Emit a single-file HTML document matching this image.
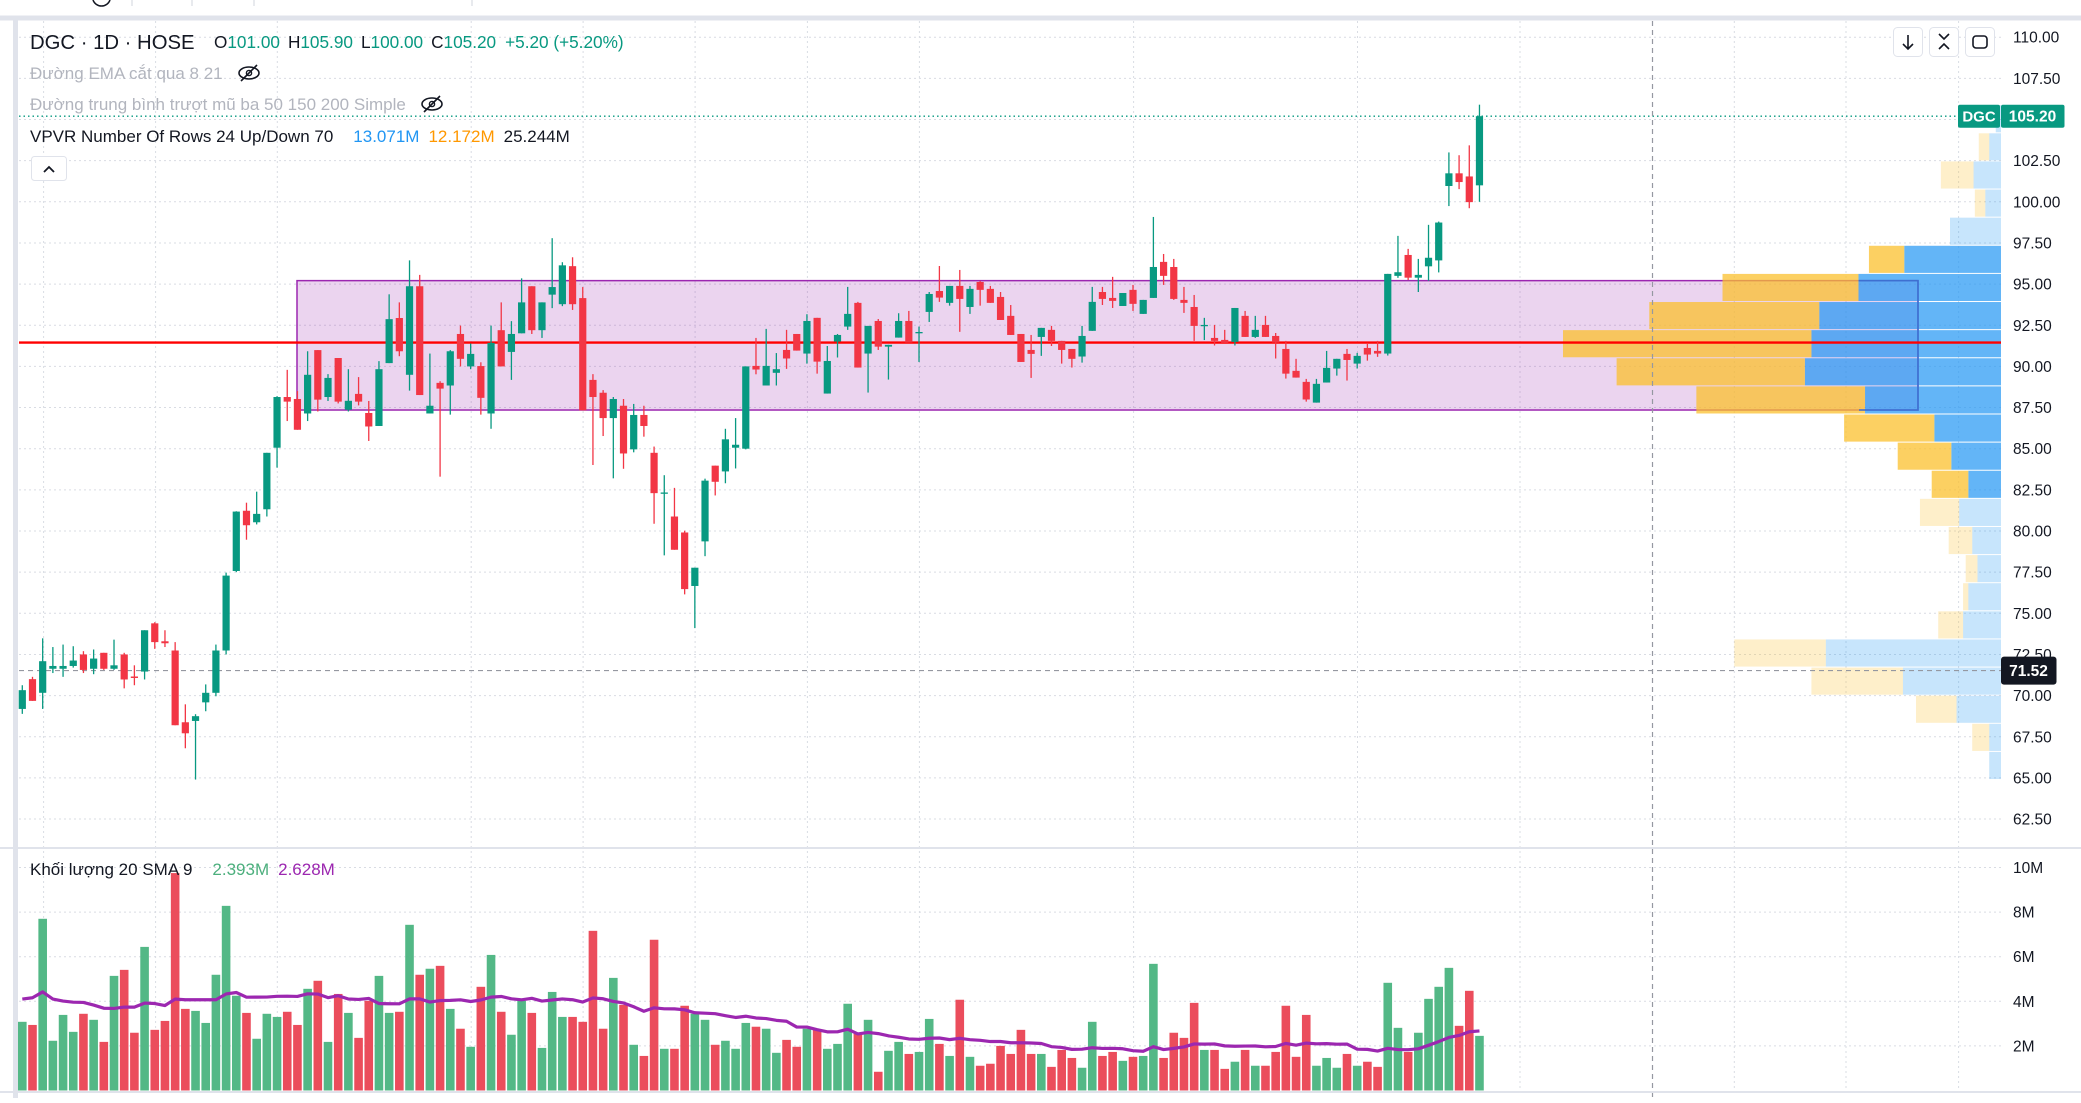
<!DOCTYPE html>
<html><head><meta charset="utf-8"><title>DGC 1D HOSE</title>
<style>
html,body{margin:0;padding:0;background:#fff;}
body{width:2081px;height:1098px;overflow:hidden;font-family:"Liberation Sans","Noto Sans CJK SC",sans-serif;}
svg text{font-family:"Liberation Sans","Noto Sans CJK SC",sans-serif;}
</style></head>
<body>
<svg id="chart" width="2081" height="1098" viewBox="0 0 2081 1098" xmlns="http://www.w3.org/2000/svg">
  <rect x="0" y="0" width="2081" height="1098" fill="#fff"/>
  <g>
    <path d="M93 0 A9 9 0 0 0 110 0" fill="none" stroke="#131722" stroke-width="1.5"/>
    <line x1="132" y1="0" x2="132" y2="6" stroke="#d1d4dc"/>
    <line x1="192" y1="0" x2="192" y2="6" stroke="#d1d4dc"/>
    <line x1="254" y1="0" x2="254" y2="6" stroke="#d1d4dc"/>
    <line x1="472" y1="0" x2="472" y2="6" stroke="#d1d4dc"/>
    <rect x="0" y="15.5" width="2081" height="5" fill="#e0e3eb"/>
  </g>
  <rect x="13" y="20" width="5" height="1078" fill="#e0e3eb"/>
  <g id="grid"></g>
  <g id="box"></g>
  <g id="profile"></g>
  <g id="lines"></g>
  <g id="candles"></g>
  <g id="volumes"></g>
  <g id="axis"></g>

  <rect x="0" y="847" width="2081" height="2" fill="#e0e3eb"/>
  <rect x="0" y="1091" width="2081" height="2" fill="#e0e3eb"/>

  <g>
    <text x="30" y="49" font-size="20.3" fill="#131722">DGC · 1D · HOSE</text>
    <text x="214" y="48" font-size="17.2"><tspan fill="#131722">O</tspan><tspan fill="#089981">101.00</tspan><tspan fill="#131722" dx="8">H</tspan><tspan fill="#089981">105.90</tspan><tspan fill="#131722" dx="8">L</tspan><tspan fill="#089981">100.00</tspan><tspan fill="#131722" dx="8">C</tspan><tspan fill="#089981">105.20</tspan><tspan fill="#089981" dx="9">+5.20 (+5.20%)</tspan></text>
    <text x="30" y="79" font-size="17" fill="#b2b5be">Đường EMA cắt qua 8 21</text>
    <g transform="translate(249,73)"><ellipse cx="0" cy="0" rx="10" ry="6" fill="none" stroke="#131722" stroke-width="1.6"/><circle cx="0" cy="0" r="2.6" fill="none" stroke="#131722" stroke-width="1.4"/><line x1="-8" y1="8" x2="8" y2="-8" stroke="#131722" stroke-width="1.6"/></g>
    <text x="30" y="110" font-size="17" fill="#b2b5be">Đường trung bình trượt mũ ba 50 150 200 Simple</text>
    <g transform="translate(432,104)"><ellipse cx="0" cy="0" rx="10" ry="6" fill="none" stroke="#131722" stroke-width="1.6"/><circle cx="0" cy="0" r="2.6" fill="none" stroke="#131722" stroke-width="1.4"/><line x1="-8" y1="8" x2="8" y2="-8" stroke="#131722" stroke-width="1.6"/></g>
    <text x="30" y="142" font-size="17"><tspan fill="#131722">VPVR Number Of Rows 24 Up/Down 70</tspan><tspan fill="#2196f3" dx="20">13.071M</tspan><tspan fill="#ff9800" dx="9">12.172M</tspan><tspan fill="#131722" dx="9">25.244M</tspan></text>
    <g><rect x="31.5" y="156.5" width="35" height="24" rx="3" fill="#fff" stroke="#e0e3eb"/><path d="M44 172 L49 167 L54 172" fill="none" stroke="#131722" stroke-width="1.8"/></g>
    <text x="30" y="875" font-size="17"><tspan fill="#131722">Khối lượng 20 SMA 9</tspan><tspan fill="#4caf7d" dx="20">2.393M</tspan><tspan fill="#9c27b0" dx="9">2.628M</tspan></text>
  </g>

  <g>
    <g><rect x="1893.5" y="27.5" width="29" height="29" rx="4" fill="#fff" stroke="#e0e3eb"/><path d="M1908 35 V49 M1903 44 L1908 49 L1913 44" fill="none" stroke="#131722" stroke-width="1.6"/></g>
    <g><rect x="1929.5" y="27.5" width="29" height="29" rx="4" fill="#fff" stroke="#e0e3eb"/><path d="M1939 34 L1944 39 L1949 34 M1939 49 L1944 44 L1949 49" fill="none" stroke="#131722" stroke-width="1.6"/></g>
    <g><rect x="1965.5" y="27.5" width="29" height="29" rx="4" fill="#fff" stroke="#e0e3eb"/><rect x="1973" y="36" width="14" height="12" rx="3" fill="none" stroke="#131722" stroke-width="1.6"/></g>
  </g>
</svg>
<script>
// ---------- data ----------
const opens  = [69.19,71.00,70.17,71.63,71.63,71.80,72.50,71.63,72.60,71.63,72.50,71.16,71.46,74.39,73.30,72.74,68.38,68.46,69.59,70.17,72.74,77.57,81.23,80.53,81.32,85.06,88.14,88.02,87.14,90.99,88.14,90.51,87.37,88.33,87.17,86.38,90.20,92.94,89.49,94.87,87.14,89.00,88.84,91.97,90.00,90.02,87.14,92.20,90.88,92.01,94.87,92.20,94.36,93.78,96.09,94.15,89.18,88.40,86.86,87.61,84.96,87.05,84.75,82.30,80.88,79.91,76.66,79.37,83.97,83.62,85.06,85.00,90.03,88.84,89.61,91.00,91.97,90.78,92.95,88.35,91.51,92.42,93.86,90.78,92.76,91.20,91.75,92.76,92.05,93.31,94.58,93.86,94.89,93.61,95.13,94.71,94.22,93.07,91.97,91.00,91.79,92.22,91.55,91.06,90.60,92.16,94.52,94.16,93.67,94.65,93.19,94.16,96.35,96.04,94.04,93.61,92.48,91.73,91.61,91.49,93.07,91.79,92.52,91.85,91.06,89.73,89.06,87.80,89.02,89.87,90.76,90.17,91.12,90.94,90.78,95.50,96.77,95.39,96.08,96.44,100.96,101.73,101.54,101.00];
const highs  = [70.63,71.14,73.48,72.95,73.10,73.00,72.70,72.80,72.60,73.40,72.60,71.84,73.97,74.46,73.97,73.25,69.47,68.87,70.68,73.10,77.47,81.20,81.72,82.39,84.75,88.19,89.79,88.50,90.92,90.99,89.53,90.51,89.83,89.35,87.90,90.32,94.38,93.89,96.44,95.56,90.78,89.10,90.99,92.48,91.39,90.25,92.48,93.89,92.75,95.35,94.87,93.89,97.79,96.33,96.63,94.82,89.53,88.56,88.14,88.02,87.72,87.61,85.13,83.39,82.62,80.02,77.77,83.18,83.97,86.21,86.86,90.00,91.73,92.28,90.81,92.22,91.97,93.17,92.95,91.24,91.97,94.83,93.92,92.46,92.88,91.31,93.23,93.37,92.42,94.52,96.10,94.89,95.86,94.89,95.19,94.89,94.52,93.73,91.97,91.91,92.34,92.46,91.55,91.06,92.46,94.83,94.83,95.44,94.46,94.95,94.04,99.08,96.83,96.53,94.83,94.34,92.95,92.52,92.22,93.55,93.37,93.07,93.07,92.03,91.55,90.46,89.24,89.24,90.94,90.46,91.06,90.82,91.43,91.55,95.62,97.93,97.14,96.53,98.60,98.80,103.00,102.83,103.43,105.90];
const lows   = [68.89,69.68,69.19,71.37,71.14,71.70,71.37,71.30,71.56,71.56,70.44,70.63,70.98,72.84,72.95,68.20,66.80,64.90,69.05,69.96,72.50,77.50,79.47,80.40,80.88,83.85,86.68,86.15,86.68,87.26,87.90,87.75,87.26,87.63,85.47,86.38,90.20,90.62,88.53,88.26,87.14,83.30,87.07,90.00,89.83,87.07,86.21,90.00,89.18,92.01,91.97,91.73,93.54,93.66,93.43,87.33,84.01,85.77,83.20,83.78,84.78,85.73,80.44,78.52,78.86,76.15,74.10,78.47,82.16,82.90,83.80,84.96,89.52,88.84,88.84,89.85,90.96,90.17,89.56,88.35,90.54,92.22,89.93,88.41,91.00,89.20,91.75,91.45,90.27,92.70,93.92,93.69,92.10,93.19,93.69,93.86,92.82,91.91,90.27,89.30,90.64,91.24,90.17,89.93,90.23,92.16,93.73,93.55,93.67,93.37,93.19,94.16,94.95,94.04,93.25,91.55,91.60,91.27,91.43,91.27,91.79,91.73,91.79,90.48,89.26,89.32,87.86,87.80,89.02,89.44,89.14,89.87,90.35,90.58,90.66,95.38,95.25,94.52,95.20,95.71,99.74,100.77,99.61,100.00];
const closes = [70.33,69.68,72.09,71.80,71.80,72.13,71.56,72.25,71.63,71.84,70.98,71.07,73.97,73.25,73.18,68.20,67.71,68.75,70.17,72.74,77.29,81.18,80.35,81.04,84.75,88.14,87.86,86.15,89.49,87.98,89.30,87.86,87.91,87.86,86.35,89.83,92.87,90.92,94.87,88.26,87.61,88.65,90.92,90.46,90.76,88.09,91.43,90.00,91.97,93.89,92.20,93.89,94.82,96.14,93.78,87.33,88.14,86.86,88.02,84.71,87.05,86.38,82.30,82.34,78.86,76.47,77.77,83.06,82.99,85.57,85.24,90.00,89.81,90.03,89.83,90.48,90.96,92.76,90.29,90.33,91.91,93.19,89.93,92.46,91.20,91.31,92.76,91.45,92.09,94.40,94.18,94.89,94.10,94.71,94.65,93.86,92.82,91.91,90.27,90.76,92.34,91.55,91.00,90.46,91.85,93.92,94.10,93.98,94.46,93.80,94.04,96.04,95.50,94.10,93.86,92.46,92.52,91.55,91.43,93.55,91.79,92.22,91.79,91.45,89.56,89.32,87.99,88.94,89.91,90.46,90.39,90.64,90.72,90.78,95.62,95.72,95.39,95.56,96.60,98.74,101.73,101.20,99.98,105.20];
// volume in millions
const volumes = [3.08,2.94,7.70,2.23,3.39,2.63,3.44,3.17,2.18,5.14,5.41,2.59,6.44,2.72,3.12,9.75,3.66,3.57,3.03,5.19,8.28,4.25,3.48,2.32,3.44,3.30,3.53,2.94,4.56,4.92,2.18,4.33,3.48,2.36,4.02,5.14,3.48,3.53,7.43,5.19,5.46,5.59,3.66,2.77,1.96,4.65,6.08,3.53,2.50,4.02,3.48,1.91,4.42,3.30,3.30,3.08,7.16,2.77,5.05,3.84,2.05,1.55,6.76,1.87,1.87,3.80,3.44,3.17,2.05,2.23,1.87,3.03,2.86,
  2.77,1.69,2.27,1.96,2.77,2.72,1.87,2.09,3.89,2.54,3.17,0.84,1.78,2.18,1.64,1.73,3.21,2.09,1.55,4.07,1.51,1.11,1.20,2.00,1.64,2.72,1.64,1.64,1.06,1.82,1.46,1.02,3.08,1.55,1.73,1.33,1.51,1.55,5.68,1.46,2.59,2.36,3.93,1.82,1.82,0.97,1.29,1.82,1.11,1.11,1.73,3.80,1.51,3.39,1.11,1.46,1.02,1.64,1.11,1.29,1.06,4.83,2.81,1.73,2.59,4.11,4.65,5.50,2.90,4.47,2.45];
// SMA values for the first 19 bars (window includes bars before chart start)
const smaEarly = [4.10,4.16,4.42,4.10,4.01,3.96,3.95,3.83,3.69,3.68,3.74,3.74,3.92,3.90,3.81,4.10,4.07,4.07,4.07];
const smaLength = 20;
// Volume profile rows, top (highest price) to bottom, millions
const profileUp   = [0.04,0.09,0.21,0.12,0.39,0.74,1.09,1.39,1.45,1.50,1.04,0.51,0.38,0.25,0.32,0.22,0.18,0.25,0.29,1.34,0.75,0.34,0.09,0.09];
const profileDown = [0.00,0.08,0.25,0.08,0.00,0.27,1.04,1.30,1.90,1.44,1.29,0.69,0.41,0.28,0.30,0.18,0.09,0.04,0.19,0.70,0.70,0.31,0.13,0.00];
const valueAreaRows = [5,13];
const priceTicks = [110,107.5,105,102.5,100,97.5,95,92.5,90,87.5,85,82.5,80,77.5,75,72.5,70,67.5,65,62.5];
const volumeTicks = [10,8,6,4,2];
const volumeTickLabels = ["10M","8M","6M","4M","2M"];
const supportPrice = 91.45;
const boxTop = 95.21, boxBottom = 87.35;
const lastPrice = 105.20;
const crosshairPrice = 71.52;

// ---------- scales ----------
const NS = "http://www.w3.org/2000/svg";
const X0 = 22.3, DX = 10.19;
function xAt(i){ return X0 + i*DX; }
function yP(p){ return 37.2 + (110 - p)*16.46; }
function yV(v){ return 1090.5 - v*22.3; }
const PLOT_RIGHT = 2001;
function mk(tag, attrs, parent){ const e=document.createElementNS(NS,tag); for(const k in attrs) e.setAttribute(k,attrs[k]); parent.appendChild(e); return e; }

// ---------- grid ----------
const grid = document.getElementById('grid');
const vgrid = [43.6,155.6,277.3,471.2,583.1,695.1,807.4,919.4,1133.6,1357.5,1520,1734.3,1846,1958.6];
vgrid.forEach(x=>{
  const l = mk('line',{x1:x,y1:21,x2:x,y2:1091,stroke:'#d9dce3','stroke-dasharray':'2 3','stroke-width':1},grid);
  
  
});
priceTicks.forEach(p=>{
  const l = mk('line',{x1:19,y1:yP(p),x2:PLOT_RIGHT,y2:yP(p),stroke:'#d9dce3','stroke-dasharray':'2 3','stroke-width':1},grid);
  
  
});
volumeTicks.forEach(v=>{
  const l = mk('line',{x1:19,y1:yV(v),x2:PLOT_RIGHT,y2:yV(v),stroke:'#d9dce3','stroke-dasharray':'2 3','stroke-width':1},grid);
  
  
});

// ---------- range box ----------
const box = document.getElementById('box');
const br = mk('rect',{x:297,y:yP(boxTop),width:1918-297,height:yP(boxBottom)-yP(boxTop),fill:'rgba(156,39,176,0.2)',stroke:'#9c27b0','stroke-width':1.5},box);



// ---------- volume profile ----------
const prof = document.getElementById('profile');
const hi = Math.max(...highs), lo = Math.min(...lows);
const rowH = (hi-lo)/profileUp.length;
let maxTot = 0; profileUp.forEach((u,i)=>{ maxTot=Math.max(maxTot,u+profileDown[i]); });
const pxPer = 438/maxTot;
profileUp.forEach((u,i)=>{
  const top = yP(hi - i*rowH) + 0.5, bot = yP(hi-(i+1)*rowH) - 0.5;
  const inVA = i>=valueAreaRows[0] && i<=valueAreaRows[1];
  const wu = u*pxPer, wd = profileDown[i]*pxPer;
  const ru = mk('rect',{x:PLOT_RIGHT-wu,y:top,width:wu,height:bot-top,fill:inVA?'rgba(33,150,243,0.7)':'rgba(33,150,243,0.25)'},prof);
  
  
  const rd = mk('rect',{x:PLOT_RIGHT-wu-wd,y:top,width:wd,height:bot-top,fill:inVA?'rgba(251,192,45,0.75)':'rgba(251,192,45,0.25)'},prof);
  
  
});
const vaBox = mk('path',{d:`M1859 ${yP(boxTop)} H1918 V${yP(boxBottom)} H1859`,fill:'none',stroke:'#3f6fd0','stroke-width':1.5},prof);



// ---------- horizontal lines ----------
const lines = document.getElementById('lines');
const sup = mk('line',{x1:19,y1:yP(supportPrice),x2:PLOT_RIGHT,y2:yP(supportPrice),stroke:'#ff0000','stroke-width':2.4},lines);


const lp = mk('line',{x1:19,y1:yP(lastPrice),x2:1958,y2:yP(lastPrice),stroke:'#089981','stroke-dasharray':'1.5 3','stroke-width':1.3},lines);


const ch = mk('line',{x1:19,y1:yP(crosshairPrice),x2:PLOT_RIGHT,y2:yP(crosshairPrice),stroke:'#9598a1','stroke-dasharray':'5 4','stroke-width':1.2},lines);


const cv = mk('line',{x1:1652.5,y1:21,x2:1652.5,y2:1098,stroke:'#9598a1','stroke-dasharray':'5 4','stroke-width':1.2},lines);



// ---------- candles ----------
const cg = document.getElementById('candles');
opens.forEach((o,i)=>{
  const c = closes[i], up = c>=o, col = up?'#089981':'#f23645', x=xAt(i);
  const g = mk('g',{},cg);
  
  
  mk('line',{x1:x,y1:yP(highs[i]),x2:x,y2:yP(lows[i]),stroke:col,'stroke-width':1.3},g);
  const t=yP(Math.max(o,c)), b=yP(Math.min(o,c));
  mk('rect',{x:x-3.6,y:t,width:7.2,height:Math.max(b-t,1.3),fill:col},g);
});

// ---------- volume ----------
const vg = document.getElementById('volumes');
volumes.forEach((v,i)=>{
  const up = closes[i]>=opens[i];
  const r = mk('rect',{x:xAt(i)-4.3,y:yV(v),width:8.6,height:yV(0)-yV(v),fill:up?'#53b886':'#eb4d5c'},vg);
  
  
});
const sma = volumes.map((v,i)=>{
  if(i<smaEarly.length) return smaEarly[i];
  let s=0; for(let k=i-smaLength+1;k<=i;k++) s+=volumes[k]; return s/smaLength;
});
const smaPath = mk('polyline',{points:sma.map((s,i)=>xAt(i)+','+yV(s)).join(' '),fill:'none',stroke:'#9c27b0','stroke-width':3.2,'stroke-linejoin':'round'},vg);



// ---------- axis ----------
const ax = document.getElementById('axis');
priceTicks.forEach(p=>{
  const t = mk('text',{x:2013,y:yP(p)+5.5,'font-size':15.5,fill:'#131722'},ax);
  t.textContent = p.toFixed(2);
  
  
});
volumeTicks.forEach((v,i)=>{
  const t = mk('text',{x:2013,y:yV(v)+5.5,'font-size':15.5,fill:'#131722'},ax);
  t.textContent = volumeTickLabels[i];
  
  
});
// last price labels
const sym = mk('g',{},ax);


mk('rect',{x:1958,y:yP(lastPrice)-11.5,width:42,height:23,rx:2,fill:'#089981'},sym);
const st = mk('text',{x:1979,y:yP(lastPrice)+5.5,'font-size':15,'font-weight':'bold',fill:'#fff','text-anchor':'middle'},sym);
st.textContent='DGC';
const lpg = mk('g',{},ax);


mk('rect',{x:2001,y:yP(lastPrice)-11.5,width:63.5,height:23,rx:2,fill:'#089981'},lpg);
const lt = mk('text',{x:2032.5,y:yP(lastPrice)+5.5,'font-size':15.5,'font-weight':'bold',fill:'#fff','text-anchor':'middle'},lpg);
lt.textContent = lastPrice.toFixed(2);
const chg = mk('g',{},ax);


mk('rect',{x:2001,y:yP(crosshairPrice)-14,width:55.5,height:28,rx:3,fill:'#131722'},chg);
const ct = mk('text',{x:2028.5,y:yP(crosshairPrice)+5.5,'font-size':15.5,'font-weight':'bold',fill:'#fff','text-anchor':'middle'},chg);
ct.textContent = crosshairPrice.toFixed(2);
</script>
</body></html>
